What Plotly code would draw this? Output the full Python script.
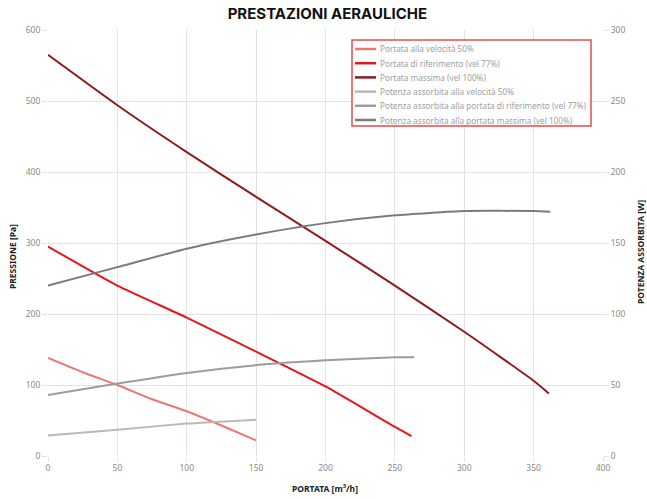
import plotly.graph_objects as go

# portata [m3/h]
portata_50 = [0, 25, 50, 75, 100, 125, 150]
portata_77 = [0, 50, 100, 150, 200, 250, 262]
portata_100 = [0, 50, 100, 150, 200, 250, 300, 350, 361]

# pressione [Pa]
pressione_50 = [138, 118, 100, 80, 63, 43, 22]
pressione_77 = [295, 240, 195, 147, 98, 41, 28]
pressione_100 = [565, 494, 428, 365, 303, 240, 175, 106, 88]

# potenza assorbita [W]
potenza_x_50 = [0, 50, 100, 150]
potenza_50 = [14.5, 18.5, 22.8, 25.6]
potenza_x_77 = [0, 50, 100, 150, 200, 250, 264]
potenza_77 = [43, 51, 58.5, 64, 67.5, 69.5, 69.5]
potenza_x_100 = [0, 50, 100, 150, 200, 250, 300, 350, 362]
potenza_100 = [120, 133, 146, 156, 164, 169.5, 172.5, 172.5, 172]

nomi = ['Portata alla velocità 50%', 'Portata di riferimento (vel 77%)', 'Portata massima (vel 100%)',
        'Potenza assorbita alla velocità 50%', 'Potenza assorbita alla portata di riferimento (vel 77%)',
        'Potenza assorbita alla portata massima (vel 100%)']
colori = ['#f07474', '#e8141c', '#8e1c20', '#b9b9b9', '#9c9c9c', '#7b7b7b']

serie = [(portata_50, pressione_50, 'y'), (portata_77, pressione_77, 'y'), (portata_100, pressione_100, 'y'),
         (potenza_x_50, potenza_50, 'y2'), (potenza_x_77, potenza_77, 'y2'), (potenza_x_100, potenza_100, 'y2')]

fig = go.Figure()
for (xs, ys, ax), nome, col in zip(serie, nomi, colori):
    fig.add_trace(go.Scatter(x=xs, y=ys, mode='lines', yaxis=ax, name=nome, showlegend=False,
                             line=dict(color=col, width=2, shape='spline', smoothing=0.5)))

# legenda disegnata a mano (piu' compatta di quella di plotly)
W, H, L, B = 555, 426, 48, 43
def px(x): return (x - L) / W
def py(y): return (499 - B - y) / H

shapes = [dict(type='rect', xref='paper', yref='paper', x0=px(352), x1=px(591), y0=py(126), y1=py(40),
               line=dict(color='#e24c4c', width=1.5), fillcolor='white', layer='above')]
annotations = []
for i, (nome, col) in enumerate(zip(nomi, colori)):
    yy = py(49 + i * 14.2)
    shapes.append(dict(type='line', xref='paper', yref='paper', x0=px(355), x1=px(376), y0=yy, y1=yy,
                       line=dict(color=col, width=2.5), layer='above'))
    annotations.append(dict(text=nome, xref='paper', yref='paper', x=px(378), y=yy, xanchor='left',
                            yanchor='middle', showarrow=False, font=dict(family='Noto Sans', size=8.2, color='#a0a0a0')))

tit = dict(family='Noto Sans', size=8.5, color='#222')
annotations += [
    dict(text='<b>PORTATA [m<sup>3</sup>/h]</b>', xref='paper', yref='paper', x=px(325), y=py(488),
         xanchor='center', yanchor='middle', showarrow=False, font=tit),
    dict(text='<b>PRESSIONE [Pa]</b>', xref='paper', yref='paper', x=px(12), y=py(257), textangle=-90,
         xanchor='center', yanchor='middle', showarrow=False, font=tit),
    dict(text='<b>POTENZA ASSORBITA [W]</b>', xref='paper', yref='paper', x=px(640), y=py(252), textangle=-90,
         xanchor='center', yanchor='middle', showarrow=False, font=tit),
]

grid = '#e6e0e0'
tickfont = dict(family='Noto Sans', size=8.5, color='#8a8a8a')

fig.update_layout(
    width=647, height=499,
    margin=dict(l=L, r=44, t=30, b=B),
    paper_bgcolor='white', plot_bgcolor='white',
    title=dict(text='<b>PRESTAZIONI AERAULICHE</b>', x=0.506, xanchor='center', y=0.972, yanchor='middle',
               font=dict(family='Inter', size=15, color='#111')),
    xaxis=dict(range=[0, 400], dtick=50, showgrid=True, gridcolor=grid, zeroline=False, automargin=False,
               ticks='outside', ticklen=4, tickcolor=grid, tickfont=tickfont),
    yaxis=dict(range=[0, 600], dtick=100, showgrid=True, gridcolor=grid, zeroline=False, automargin=False,
               ticks='outside', ticklen=5, tickcolor=grid, tickfont=tickfont),
    yaxis2=dict(range=[0, 300], dtick=50, overlaying='y', side='right', showgrid=False, zeroline=False,
                automargin=False, ticks='outside', ticklen=5, tickcolor=grid, tickfont=tickfont),
    shapes=shapes,
    annotations=annotations,
    showlegend=False,
)

fig.write_html("out.html", config={'displayModeBar': False},
               post_script="document.body.style.margin='0';")
